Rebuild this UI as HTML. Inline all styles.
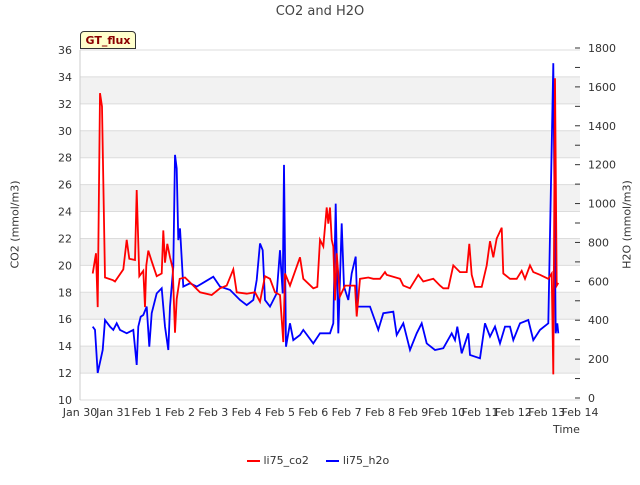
<!DOCTYPE html>
<html><head><meta charset="utf-8"><style>
body{margin:0;background:#fff;font-family:"Liberation Sans","DejaVu Sans",sans-serif;}
svg text{font-family:"DejaVu Sans","Liberation Sans",sans-serif;}
</style></head><body>
<svg id="c" width="640" height="480" xmlns="http://www.w3.org/2000/svg"></svg>
<script>
const co2Days=[0.38,0.48,0.53,0.6,0.66,0.75,0.99,1.05,1.3,1.4,1.48,1.65,1.7,1.78,1.9,1.95,1.99,2.05,2.15,2.3,2.45,2.5,2.55,2.62,2.7,2.78,2.85,2.9,2.99,3.15,3.4,3.6,3.95,4.2,4.4,4.6,4.7,5,5.25,5.4,5.55,5.7,5.85,6,6.1,6.15,6.3,6.6,6.7,7,7.12,7.2,7.3,7.4,7.45,7.5,7.55,7.6,7.65,7.7,7.8,7.95,8.25,8.3,8.4,8.65,8.8,9,9.15,9.2,9.6,9.7,9.9,10.15,10.3,10.6,10.8,10.9,11.05,11.2,11.4,11.6,11.68,11.75,11.85,12.05,12.2,12.3,12.4,12.5,12.65,12.7,12.9,13.1,13.25,13.35,13.5,13.6,13.8,14.05,14.15,14.2,14.25,14.3,14.35];
const co2Vals=[19.4,20.9,16.9,32.8,31.8,19.1,18.9,18.8,19.7,21.9,20.5,20.4,25.6,19.2,19.6,16.9,20,21.1,20.3,19.2,19.4,22.6,20.2,21.6,20.6,19.8,15,17.5,19,19.1,18.5,18,17.8,18.3,18.5,19.7,18,17.9,18,17.3,19.2,19,18,17.8,14.3,19.4,18.5,20.6,19,18.3,18.4,21.9,21.4,24.3,23.1,24.3,21.9,21.4,17.4,20.9,17.7,18.5,18.5,16.2,19,19.1,19,19,19.5,19.3,19,18.5,18.3,19.3,18.8,19,18.5,18.3,18.3,20,19.5,19.5,21.6,19.3,18.4,18.4,20,21.8,20.6,22,22.8,19.4,19,19,19.6,19,20,19.5,19.3,19,19.4,11.9,33.9,18.5,18.7];
const h2oDays=[0.38,0.45,0.53,0.68,0.75,0.9,1,1.1,1.2,1.4,1.6,1.7,1.75,1.82,1.9,2,2.08,2.15,2.3,2.45,2.55,2.65,2.7,2.8,2.85,2.9,2.95,3,3.1,3.3,3.5,3.75,4,4.2,4.5,4.8,5,5.2,5.3,5.4,5.48,5.55,5.7,5.9,6,6.08,6.12,6.18,6.3,6.4,6.6,6.7,7,7.2,7.5,7.6,7.67,7.75,7.85,7.92,8.05,8.15,8.27,8.32,8.5,8.7,8.95,9.1,9.4,9.5,9.7,9.9,10.1,10.25,10.4,10.65,10.9,11.15,11.25,11.32,11.45,11.65,11.7,12,12.15,12.3,12.45,12.6,12.75,12.9,13,13.2,13.45,13.6,13.8,14.05,14.2,14.27,14.32,14.35];
const h2oVals=[367,351,129,247,401,367,350,384,350,333,350,170,367,418,427,470,264,436,538,564,367,247,470,675,1250,1181,812,872,573,590,573,598,624,573,556,504,478,504,607,795,760,504,470,538,760,538,1199,264,384,298,324,350,281,333,333,384,1000,333,898,573,504,641,727,470,470,470,350,436,444,324,384,247,333,384,281,247,256,333,298,367,230,333,221,204,384,316,367,281,367,367,298,384,401,298,350,384,1722,333,384,333];
const xTicks=["Jan 30","Jan 31","Feb 1","Feb 2","Feb 3","Feb 4","Feb 5","Feb 6","Feb 7","Feb 8","Feb 9","Feb 10","Feb 11","Feb 12","Feb 13","Feb 14"];
const leftTicks=[10,12,14,16,18,20,22,24,26,28,30,32,34,36];
const rightTicks=[0,200,400,600,800,1000,1200,1400,1600,1800];

const L=80,R=580,T=50,B=400;
const xs=d=>L+d*(R-L)/15;
const yl=v=>B-(v-10)*(B-T)/26;
const yr=v=>398-v*(350/1800);
const svg=document.getElementById('c');
const NS='http://www.w3.org/2000/svg';
function mk(t,a,p){const e=document.createElementNS(NS,t);for(const k in a)e.setAttribute(k,a[k]);(p||svg).appendChild(e);return e;}

for(let v=12;v<36;v+=4){
  const r=mk('rect',{x:L,y:yl(v+2),width:R-L,height:yl(v)-yl(v+2),fill:'#f2f2f2'});
  
  
}
leftTicks.forEach(v=>{
  const g=mk('line',{x1:L,x2:R,y1:yl(v),y2:yl(v),stroke:'#dcdcdc','stroke-width':1});
  
  
  const t=mk('text',{x:L-8,y:yl(v)+4,'text-anchor':'end','font-size':11,fill:'#333'});
  t.textContent=v;
  
  
});
mk('line',{x1:L,x2:L,y1:T,y2:B,stroke:'#ccc'});
rightTicks.forEach(v=>{
  const t=mk('text',{x:588,y:yr(v)+4,'font-size':11,fill:'#333'});
  t.textContent=v;
  
  
});
for(let v=0;v<=1800;v+=100){
  const tk=mk('line',{x1:575,x2:580,y1:yr(v),y2:yr(v),stroke:'#333'});
  
  
}
xTicks.forEach((s,i)=>{
  const t=mk('text',{x:xs(i),y:416,'text-anchor':'middle','font-size':11,fill:'#333'});
  t.textContent=s;
  
  
});
const pc=co2Days.map((d,i)=>xs(d).toFixed(1)+','+yl(co2Vals[i]).toFixed(1)).join(' ');
const ph=h2oDays.map((d,i)=>xs(d).toFixed(1)+','+yr(h2oVals[i]).toFixed(1)).join(' ');
const lh=mk('polyline',{points:ph,fill:'none',stroke:'#0000ff','stroke-width':1.8});


const lc=mk('polyline',{points:pc,fill:'none',stroke:'#ff0000','stroke-width':1.8});


</script>
<div style="position:absolute;left:0;top:4px;width:640px;text-align:center;font-size:13px;color:#444;font-family:'DejaVu Sans',sans-serif">CO2 and H2O</div>
<div style="position:absolute;left:80px;top:31px;width:56px;height:18px;background:#ffffcc;border:1px solid #333;border-radius:4px 4px 0 0;font-size:11px;font-weight:bold;color:#8b0000;text-align:center;line-height:18px;box-sizing:border-box;font-family:'DejaVu Sans',sans-serif">GT_flux</div>
<div style="position:absolute;left:-35px;top:218px;width:100px;text-align:center;font-size:11px;color:#333;transform:rotate(-90deg);font-family:'DejaVu Sans',sans-serif">CO2 (mmol/m3)</div>
<div style="position:absolute;left:577px;top:218px;width:100px;text-align:center;font-size:11px;color:#333;transform:rotate(-90deg);font-family:'DejaVu Sans',sans-serif">H2O (mmol/m3)</div>
<div style="position:absolute;left:553px;top:423px;font-size:11px;color:#333;font-family:'DejaVu Sans',sans-serif">Time</div>
<div style="position:absolute;left:247px;top:454px;font-size:11px;color:#333;font-family:'DejaVu Sans',sans-serif;white-space:nowrap">
<span><span style="display:inline-block;width:13px;height:2px;background:#f00;vertical-align:middle"></span> li75_co2</span>
<span style="margin-left:14px"><span style="display:inline-block;width:13px;height:2px;background:#00f;vertical-align:middle"></span> li75_h2o</span>
</div>
</body></html>
